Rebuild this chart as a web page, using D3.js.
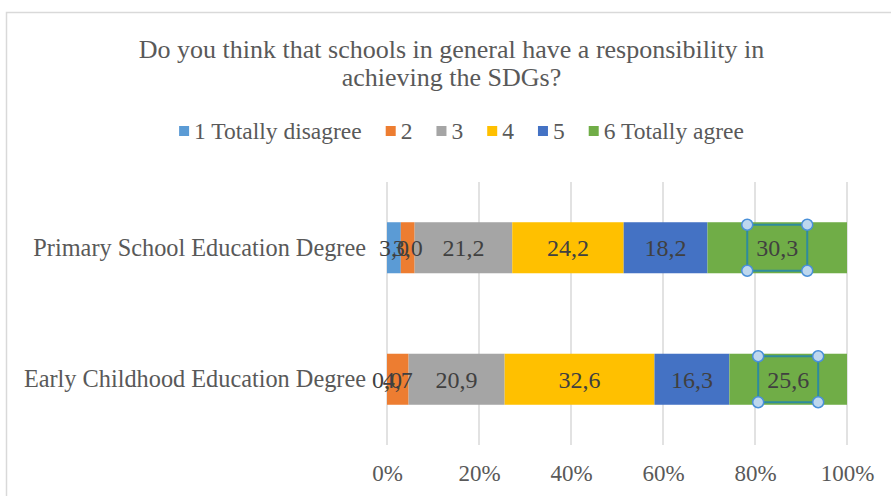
<!DOCTYPE html>
<html>
<head>
<meta charset="utf-8">
<script src="https://cdn.jsdelivr.net/npm/d3@7"></script>
<style>
  html, body { margin: 0; padding: 0; background: #fff; }
  svg { display: block; }
</style>
</head>
<body>
<svg id="chart" width="891" height="496"></svg>
<script>
// ---- data ----
const titleLines = ["Do you think that schools in general have a responsibility in", "achieving the SDGs?"];
const categories = ["Primary School Education Degree", "Early Childhood Education Degree"];
const seriesNames = ["1 Totally disagree", "2", "3", "4", "5", "6 Totally agree"];
const seriesColors = ["#5B9BD5", "#ED7D31", "#A5A5A5", "#FFC000", "#4472C4", "#70AD47"];
const primaryValues = [3.0, 3.0, 21.2, 24.2, 18.2, 30.3];
const earlyValues = [0.0, 4.7, 20.9, 32.6, 16.3, 25.6];
const tickValues = [0, 0.2, 0.4, 0.6, 0.8, 1.0];
const selectedSeries = "6 Totally agree";

// ---- layout ----
const plot = { left: 387, right: 847, top: 182, bottom: 445 };
const serif = "'Liberation Serif', 'Times New Roman', serif";
const textColor = "#595959";
const labelColor = "#404040";

const svg = d3.select("#chart");

// chart area border
svg.append("rect")
  .attr("x", 6.5).attr("y", 12.5)
  .attr("width", 920).attr("height", 520)
  .attr("fill", "#fff").attr("stroke", "#d9d9d9").attr("stroke-width", 1.5);

// title
const title = svg.append("text")
  .attr("text-anchor", "middle")
  .attr("font-family", serif).attr("font-size", 26)
  .attr("fill", textColor);
titleLines.forEach((t, i) => {
  title.append("tspan").attr("x", 451.5).attr("y", 58 + i * 28).text(t);
});

// data table
const rows = categories.map((c, i) => {
  const vals = i === 0 ? primaryValues : earlyValues;
  const r = { category: c };
  seriesNames.forEach((s, j) => r[s] = vals[j]);
  return r;
});

const stack = d3.stack().keys(seriesNames).offset(d3.stackOffsetExpand);
const stacked = stack(rows);

const x = d3.scaleLinear().domain([0, 1]).range([plot.left, plot.right]);
const y = d3.scaleBand().domain(categories).range([plot.top, plot.bottom])
  .paddingInner(0.612).paddingOuter(0.306);

// gridlines
svg.append("g").selectAll("line").data(tickValues).join("line")
  .attr("x1", d => x(d)).attr("x2", d => x(d))
  .attr("y1", plot.top).attr("y2", plot.bottom)
  .attr("stroke", "#d9d9d9").attr("stroke-width", 1.5);

// x axis labels
const xAxis = d3.axisBottom(x).tickValues(tickValues).tickFormat(d3.format(".0%")).tickSize(0).tickPadding(0);
const gx = svg.append("g").attr("transform", `translate(0,${plot.bottom + 20})`).call(xAxis);
gx.select(".domain").remove();
gx.selectAll("text")
  .attr("font-family", serif).attr("font-size", 23)
  .attr("fill", textColor).attr("dy", "0.71em");

// y axis labels
const yAxis = d3.axisLeft(y).tickSize(0).tickPadding(0);
const gy = svg.append("g").attr("transform", `translate(366,0)`).call(yAxis);
gy.select(".domain").remove();
gy.selectAll("text")
  .attr("font-family", serif).attr("font-size", 24.3)
  .attr("fill", textColor);

// bars
const layers = svg.append("g").selectAll("g").data(stacked).join("g")
  .attr("fill", (d, i) => seriesColors[i]);
layers.selectAll("rect").data(d => d.map(p => ({ p, key: d.key }))).join("rect")
  .attr("x", d => x(d.p[0]))
  .attr("width", d => x(d.p[1]) - x(d.p[0]))
  .attr("y", d => y(d.p.data.category))
  .attr("height", y.bandwidth());

// data labels
const fmt = v => d3.format(".1f")(v).replace(".", ",");
const labels = svg.append("g");
stacked.forEach((layer) => {
  layer.forEach(p => {
    const cx = (x(p[0]) + x(p[1])) / 2;
    const cy = y(p.data.category) + y.bandwidth() / 2;
    const t = labels.append("text")
      .attr("x", cx).attr("y", cy).attr("dy", "0.35em")
      .attr("text-anchor", "middle")
      .attr("font-family", serif).attr("font-size", 24)
      .attr("fill", labelColor)
      .text(fmt(p.data[layer.key]));
    if (layer.key === selectedSeries) {
      const w = t.node().getComputedTextLength();
      const bw = w + 18, bh = 46;
      const bx = cx - bw / 2, by = cy - bh / 2;
      labels.append("rect")
        .attr("x", bx).attr("y", by).attr("width", bw).attr("height", bh)
        .attr("fill", "none").attr("stroke", "#2E8B9E").attr("stroke-width", 2);
      [[bx, by], [bx + bw, by], [bx, by + bh], [bx + bw, by + bh]].forEach(([hx, hy]) => {
        labels.append("circle").attr("cx", hx).attr("cy", hy).attr("r", 5.5)
          .attr("fill", "#BDD7EE").attr("stroke", "#4A90D9").attr("stroke-width", 1.5);
      });
    }
  });
});

// legend
const legend = svg.append("g").attr("font-family", serif).attr("font-size", 23.5).attr("fill", textColor);
let lx = 0;
const items = [];
seriesNames.forEach((s, i) => {
  const g = legend.append("g");
  g.append("rect").attr("x", 0).attr("y", -5).attr("width", 10).attr("height", 10).attr("fill", seriesColors[i]);
  const t = g.append("text").attr("x", 15).attr("dy", "0.35em").attr("fill", textColor).text(s);
  const w = 15 + t.node().getComputedTextLength();
  items.push({ g, lx });
  lx += w + 24;
});
const totalW = lx - 24;
const startX = 461.5 - totalW / 2;
items.forEach(it => it.g.attr("transform", `translate(${startX + it.lx},131)`));
</script>
</body>
</html>
